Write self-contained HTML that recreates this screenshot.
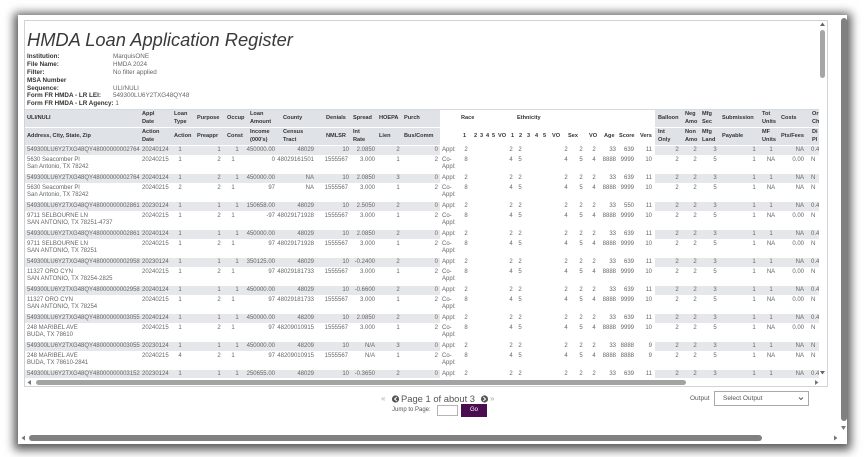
<!DOCTYPE html>
<html><head><meta charset="utf-8"><style>
*{margin:0;padding:0}
body{width:866px;height:457px;position:relative;overflow:hidden;background:#fff;font-family:"Liberation Sans",Arial,sans-serif}
.fr{position:absolute;left:18px;top:15px;width:829px;height:429px;background:#fff;box-shadow:0 2px 9px 4px rgba(0,0,0,.65)}
.pn{position:absolute;left:24px;top:20px;width:802px;height:365px;border:1px solid #d0d3d7;background:#fff}
.ti{position:absolute;left:27px;top:30px;font-size:18.3px;line-height:20px;font-style:italic;color:#3a3a3a;white-space:nowrap}
.inf{position:absolute;left:27px;top:53.4px;font-size:6.3px;line-height:7.8px;color:#333;font-weight:bold;white-space:nowrap}
.inv{position:absolute;left:113px;top:53.4px;font-size:6.3px;line-height:7.8px;color:#666;white-space:nowrap}
.clip{position:absolute;left:25px;top:109px;width:794px;height:269px;overflow:hidden}
.in{position:absolute;left:-25px;top:-109px;width:866px;height:400px}
.hb{position:absolute;background:#dfe2e6}
.hd i{position:absolute;font-style:normal;font-weight:bold;font-size:5.6px;line-height:7.5px;color:#333;white-space:nowrap}
.h1 i{top:115px}.h1 i.t2{top:111px}
.h2 i{top:133px}.h2 i.t2{top:129px}
.rec{position:absolute;left:0;width:866px;height:28px}
.g{position:absolute;top:0;height:9px;background:#e5e7ea}
.g1{left:25px;width:415px}.g2{left:655px;width:164px}
.rec i{position:absolute;font-style:normal;font-size:6px;color:#666;white-space:nowrap}
.r1 i{top:0;line-height:9px}
.r2 i{top:9.5px;line-height:8px}
.r2 i.l2{top:17px}
.u{left:27px}.d{left:142px}
.a{left:176px;width:8px;text-align:center}
.b{left:215px;width:8px;text-align:center}
.c{left:233px;width:8px;text-align:center}
.cc{left:229px;width:8px;text-align:center}
.m{left:230px;width:45px;text-align:right}
.n{left:270px;width:44px;text-align:right}
.p{left:325px;width:24px;text-align:right}
.q{left:318px;width:30px;text-align:right}
.s{left:350px;width:25px;text-align:right}
.h{left:394px;width:8px;text-align:center}
.k{left:420px;width:18px;text-align:right}
.ap{left:442px}
.r{left:462px;width:8px;text-align:center}
.v{left:507px;width:8px;text-align:center}
.e{left:516px;width:8px;text-align:center}
.x{left:562px;width:8px;text-align:center}
.y{left:577px;width:8px;text-align:center}
.z{left:590px;width:8px;text-align:center}
.ag{left:596px;width:20px;text-align:right}
.sc{left:610px;width:24px;text-align:right}
.ve{left:636px;width:16px;text-align:right}
.b1{left:673px;width:8px;text-align:center}
.b2{left:691px;width:8px;text-align:center}
.b3{left:711px;width:8px;text-align:center}
.s1{left:750px;width:8px;text-align:center}
.t1{left:763px;width:16px;text-align:center}
.cs{left:784px;width:20px;text-align:right}
.oc{left:811px}
.pg{position:absolute;white-space:nowrap;color:#555}
</style></head><body>
<div class="fr"></div>
<div class="pn"></div>
<div class="ti">HMDA Loan Application Register</div>
<div class="inf">Institution:<br>File Name:<br>Filter:<br>MSA Number<br>Sequence:<br>Form FR HMDA - LR LEI:<br>Form FR HMDA - LR Agency: <span style="font-weight:normal;color:#666">1</span></div>
<div class="inv">MarquisONE<br>HMDA 2024<br>No filter applied<br>&nbsp;<br>ULI/NULI<br>549300LU6Y2TXG48QY48</div>

<div class="clip"><div class="in">
<div style="position:absolute;left:25px;top:109px;width:794px;height:1px;background:#d6d9dd"></div>
<div class="hb" style="left:25px;top:110px;width:415px;height:17px"></div>
<div class="hb" style="left:655px;top:110px;width:164px;height:17px"></div>
<div class="hb" style="left:25px;top:128px;width:415px;height:17px"></div>
<div class="hb" style="left:655px;top:128px;width:164px;height:17px"></div>
<div class="hd h1">
<i style="left:27px">ULI/NULI</i><i class="t2" style="left:142px">Appl<br>Date</i><i class="t2" style="left:174px">Loan<br>Type</i><i style="left:197px">Purpose</i><i style="left:227px">Occup</i><i class="t2" style="left:250px">Loan<br>Amount</i><i style="left:283px">County</i><i style="left:326px">Denials</i><i style="left:353px">Spread</i><i style="left:379px">HOEPA</i><i style="left:404px">Purch</i><i style="left:461px">Race</i><i style="left:517px">Ethnicity</i><i style="left:658px">Balloon</i><i class="t2" style="left:685px">Neg<br>Amo</i><i class="t2" style="left:702px">Mfg<br>Sec</i><i style="left:722px">Submission</i><i class="t2" style="left:762px">Tot<br>Units</i><i style="left:781px">Costs</i><i class="t2" style="left:812px">Or<br>Ch</i>
</div>
<div class="hd h2">
<i style="left:27px">Address, City, State, Zip</i><i class="t2" style="left:142px">Action<br>Date</i><i style="left:174px">Action</i><i style="left:197px">Preappr</i><i style="left:227px">Const</i><i class="t2" style="left:250px">Income<br>(000's)</i><i class="t2" style="left:283px">Census<br>Tract</i><i style="left:326px">NMLSR</i><i class="t2" style="left:353px">Int<br>Rate</i><i style="left:379px">Lien</i><i style="left:404px">Bus/Comm</i>
<i style="left:463px">1</i><i style="left:474px">2</i><i style="left:480px">3</i><i style="left:486px">4</i><i style="left:492px">5</i><i style="left:498px">VO</i><i style="left:511px">1</i><i style="left:519px">2</i><i style="left:527px">3</i><i style="left:535px">4</i><i style="left:543px">5</i><i style="left:552px">VO</i><i style="left:568px">Sex</i><i style="left:589px">VO</i><i style="left:604px">Age</i><i style="left:619px">Score</i><i style="left:640px">Vers</i>
<i class="t2" style="left:658px">Int<br>Only</i><i class="t2" style="left:685px">Non<br>Amo</i><i class="t2" style="left:702px">Mfg<br>Land</i><i style="left:722px">Payable</i><i class="t2" style="left:762px">MF<br>Units</i><i style="left:781px">Pts/Fees</i><i class="t2" style="left:812px">Di<br>Pl</i>
</div>

<div class="rec" style="top:146px"><b class="g g1"></b><b class="g g2"></b>
<div class="r1"><i class="u">549300LU6Y2TXG48QY48000000002764</i><i class="d">20240124</i><i class="a">1</i><i class="b">1</i><i class="c">1</i><i class="m">450000.00</i><i class="n">48029</i><i class="p">10</i><i class="s">2.0850</i><i class="h">2</i><i class="k">0</i><i class="ap">Appl:</i><i class="r">2</i><i class="v">2</i><i class="e">2</i><i class="x">2</i><i class="y">2</i><i class="z">2</i><i class="ag">33</i><i class="sc">639</i><i class="ve">11</i><i class="b1">2</i><i class="b2">2</i><i class="b3">3</i><i class="s1">1</i><i class="t1">1</i><i class="cs">NA</i><i class="oc">0.4</i></div>
<div class="r2"><i class="u">5630 Seacomber Pl</i><i class="u l2">San Antonio, TX 78242</i><i class="d">20240215</i><i class="a">1</i><i class="b">2</i><i class="cc">1</i><i class="m">0</i><i class="n">48029161501</i><i class="q">1555567</i><i class="s">3.000</i><i class="h">1</i><i class="k">2</i><i class="ap">Co-</i><i class="ap l2">Appl:</i><i class="r">8</i><i class="v">4</i><i class="e">5</i><i class="x">4</i><i class="y">5</i><i class="z">4</i><i class="ag">8888</i><i class="sc">9999</i><i class="ve">10</i><i class="b1">2</i><i class="b2">2</i><i class="b3">5</i><i class="s1">1</i><i class="t1">NA</i><i class="cs">0.00</i><i class="oc">N</i></div></div>

<div class="rec" style="top:174px"><b class="g g1"></b><b class="g g2"></b>
<div class="r1"><i class="u">549300LU6Y2TXG48QY48000000002764</i><i class="d">20240124</i><i class="a">1</i><i class="b">2</i><i class="c">1</i><i class="m">450000.00</i><i class="n">NA</i><i class="p">10</i><i class="s">2.0850</i><i class="h">3</i><i class="k">0</i><i class="ap">Appl:</i><i class="r">2</i><i class="v">2</i><i class="e">2</i><i class="x">2</i><i class="y">2</i><i class="z">2</i><i class="ag">33</i><i class="sc">639</i><i class="ve">11</i><i class="b1">2</i><i class="b2">2</i><i class="b3">3</i><i class="s1">1</i><i class="t1">1</i><i class="cs">NA</i><i class="oc">N</i></div>
<div class="r2"><i class="u">5630 Seacomber Pl</i><i class="u l2">San Antonio, TX 78242</i><i class="d">20240215</i><i class="a">2</i><i class="b">2</i><i class="cc">1</i><i class="m">97</i><i class="n">NA</i><i class="q">1555567</i><i class="s">3.000</i><i class="h">1</i><i class="k">2</i><i class="ap">Co-</i><i class="ap l2">Appl:</i><i class="r">8</i><i class="v">4</i><i class="e">5</i><i class="x">4</i><i class="y">5</i><i class="z">4</i><i class="ag">8888</i><i class="sc">9999</i><i class="ve">10</i><i class="b1">2</i><i class="b2">2</i><i class="b3">5</i><i class="s1">1</i><i class="t1">NA</i><i class="cs">NA</i><i class="oc">N</i></div></div>

<div class="rec" style="top:202px"><b class="g g1"></b><b class="g g2"></b>
<div class="r1"><i class="u">549300LU6Y2TXG48QY48000000002861</i><i class="d">20230124</i><i class="a">1</i><i class="b">1</i><i class="c">1</i><i class="m">150658.00</i><i class="n">48029</i><i class="p">10</i><i class="s">2.5050</i><i class="h">2</i><i class="k">0</i><i class="ap">Appl:</i><i class="r">2</i><i class="v">2</i><i class="e">2</i><i class="x">2</i><i class="y">2</i><i class="z">2</i><i class="ag">33</i><i class="sc">550</i><i class="ve">11</i><i class="b1">2</i><i class="b2">2</i><i class="b3">3</i><i class="s1">1</i><i class="t1">1</i><i class="cs">NA</i><i class="oc">0.4</i></div>
<div class="r2"><i class="u">9711 SELBOURNE LN</i><i class="u l2">SAN ANTONIO, TX 78251-4737</i><i class="d">20240215</i><i class="a">1</i><i class="b">2</i><i class="cc">1</i><i class="m">-97</i><i class="n">48029171928</i><i class="q">1555567</i><i class="s">3.000</i><i class="h">1</i><i class="k">2</i><i class="ap">Co-</i><i class="ap l2">Appl:</i><i class="r">8</i><i class="v">4</i><i class="e">5</i><i class="x">4</i><i class="y">5</i><i class="z">4</i><i class="ag">8888</i><i class="sc">9999</i><i class="ve">10</i><i class="b1">2</i><i class="b2">2</i><i class="b3">5</i><i class="s1">1</i><i class="t1">NA</i><i class="cs">0.00</i><i class="oc">N</i></div></div>

<div class="rec" style="top:230px"><b class="g g1"></b><b class="g g2"></b>
<div class="r1"><i class="u">549300LU6Y2TXG48QY48000000002861</i><i class="d">20240124</i><i class="a">1</i><i class="b">1</i><i class="c">1</i><i class="m">450000.00</i><i class="n">48029</i><i class="p">10</i><i class="s">2.0850</i><i class="h">2</i><i class="k">0</i><i class="ap">Appl:</i><i class="r">2</i><i class="v">2</i><i class="e">2</i><i class="x">2</i><i class="y">2</i><i class="z">2</i><i class="ag">33</i><i class="sc">639</i><i class="ve">11</i><i class="b1">2</i><i class="b2">2</i><i class="b3">3</i><i class="s1">1</i><i class="t1">1</i><i class="cs">NA</i><i class="oc">0.4</i></div>
<div class="r2"><i class="u">9711 SELBOURNE LN</i><i class="u l2">SAN ANTONIO, TX 78251</i><i class="d">20240215</i><i class="a">1</i><i class="b">2</i><i class="cc">1</i><i class="m">97</i><i class="n">48029171928</i><i class="q">1555567</i><i class="s">3.000</i><i class="h">1</i><i class="k">2</i><i class="ap">Co-</i><i class="ap l2">Appl:</i><i class="r">8</i><i class="v">4</i><i class="e">5</i><i class="x">4</i><i class="y">5</i><i class="z">4</i><i class="ag">8888</i><i class="sc">9999</i><i class="ve">10</i><i class="b1">2</i><i class="b2">2</i><i class="b3">5</i><i class="s1">1</i><i class="t1">NA</i><i class="cs">0.00</i><i class="oc">N</i></div></div>

<div class="rec" style="top:258px"><b class="g g1"></b><b class="g g2"></b>
<div class="r1"><i class="u">549300LU6Y2TXG48QY48000000002958</i><i class="d">20230124</i><i class="a">1</i><i class="b">1</i><i class="c">1</i><i class="m">350125.00</i><i class="n">48029</i><i class="p">10</i><i class="s">-0.2400</i><i class="h">2</i><i class="k">0</i><i class="ap">Appl:</i><i class="r">2</i><i class="v">2</i><i class="e">2</i><i class="x">2</i><i class="y">2</i><i class="z">2</i><i class="ag">33</i><i class="sc">639</i><i class="ve">11</i><i class="b1">2</i><i class="b2">2</i><i class="b3">3</i><i class="s1">1</i><i class="t1">1</i><i class="cs">NA</i><i class="oc">0.4</i></div>
<div class="r2"><i class="u">11327 ORO CYN</i><i class="u l2">SAN ANTONIO, TX 78254-2825</i><i class="d">20240215</i><i class="a">1</i><i class="b">2</i><i class="cc">1</i><i class="m">97</i><i class="n">48029181733</i><i class="q">1555567</i><i class="s">3.000</i><i class="h">1</i><i class="k">2</i><i class="ap">Co-</i><i class="ap l2">Appl:</i><i class="r">8</i><i class="v">4</i><i class="e">5</i><i class="x">4</i><i class="y">5</i><i class="z">4</i><i class="ag">8888</i><i class="sc">9999</i><i class="ve">10</i><i class="b1">2</i><i class="b2">2</i><i class="b3">5</i><i class="s1">1</i><i class="t1">NA</i><i class="cs">0.00</i><i class="oc">N</i></div></div>

<div class="rec" style="top:286px"><b class="g g1"></b><b class="g g2"></b>
<div class="r1"><i class="u">549300LU6Y2TXG48QY48000000002958</i><i class="d">20240124</i><i class="a">1</i><i class="b">1</i><i class="c">1</i><i class="m">450000.00</i><i class="n">48029</i><i class="p">10</i><i class="s">-0.6600</i><i class="h">2</i><i class="k">0</i><i class="ap">Appl:</i><i class="r">2</i><i class="v">2</i><i class="e">2</i><i class="x">2</i><i class="y">2</i><i class="z">2</i><i class="ag">33</i><i class="sc">639</i><i class="ve">11</i><i class="b1">2</i><i class="b2">2</i><i class="b3">3</i><i class="s1">1</i><i class="t1">1</i><i class="cs">NA</i><i class="oc">0.4</i></div>
<div class="r2"><i class="u">11327 ORO CYN</i><i class="u l2">SAN ANTONIO, TX 78254</i><i class="d">20240215</i><i class="a">1</i><i class="b">2</i><i class="cc">1</i><i class="m">97</i><i class="n">48029181733</i><i class="q">1555567</i><i class="s">3.000</i><i class="h">1</i><i class="k">2</i><i class="ap">Co-</i><i class="ap l2">Appl:</i><i class="r">8</i><i class="v">4</i><i class="e">5</i><i class="x">4</i><i class="y">5</i><i class="z">4</i><i class="ag">8888</i><i class="sc">9999</i><i class="ve">10</i><i class="b1">2</i><i class="b2">2</i><i class="b3">5</i><i class="s1">1</i><i class="t1">NA</i><i class="cs">0.00</i><i class="oc">N</i></div></div>

<div class="rec" style="top:314px"><b class="g g1"></b><b class="g g2"></b>
<div class="r1"><i class="u">549300LU6Y2TXG48QY48000000003055</i><i class="d">20240124</i><i class="a">1</i><i class="b">1</i><i class="c">1</i><i class="m">450000.00</i><i class="n">48209</i><i class="p">10</i><i class="s">2.0850</i><i class="h">2</i><i class="k">0</i><i class="ap">Appl:</i><i class="r">2</i><i class="v">2</i><i class="e">2</i><i class="x">2</i><i class="y">2</i><i class="z">2</i><i class="ag">33</i><i class="sc">639</i><i class="ve">11</i><i class="b1">2</i><i class="b2">2</i><i class="b3">3</i><i class="s1">1</i><i class="t1">1</i><i class="cs">NA</i><i class="oc">0.4</i></div>
<div class="r2"><i class="u">248 MARIBEL AVE</i><i class="u l2">BUDA, TX 78610</i><i class="d">20240215</i><i class="a">1</i><i class="b">2</i><i class="cc">1</i><i class="m">97</i><i class="n">48209010915</i><i class="q">1555567</i><i class="s">3.000</i><i class="h">1</i><i class="k">2</i><i class="ap">Co-</i><i class="ap l2">Appl:</i><i class="r">8</i><i class="v">4</i><i class="e">5</i><i class="x">4</i><i class="y">5</i><i class="z">4</i><i class="ag">8888</i><i class="sc">9999</i><i class="ve">10</i><i class="b1">2</i><i class="b2">2</i><i class="b3">5</i><i class="s1">1</i><i class="t1">NA</i><i class="cs">0.00</i><i class="oc">N</i></div></div>

<div class="rec" style="top:342px"><b class="g g1"></b><b class="g g2"></b>
<div class="r1"><i class="u">549300LU6Y2TXG48QY48000000003055</i><i class="d">20230124</i><i class="a">1</i><i class="b">1</i><i class="c">1</i><i class="m">450000.00</i><i class="n">48209</i><i class="p">10</i><i class="s">N/A</i><i class="h">3</i><i class="k">0</i><i class="ap">Appl:</i><i class="r">2</i><i class="v">2</i><i class="e">2</i><i class="x">2</i><i class="y">2</i><i class="z">2</i><i class="ag">33</i><i class="sc">8888</i><i class="ve">9</i><i class="b1">2</i><i class="b2">2</i><i class="b3">3</i><i class="s1">1</i><i class="t1">1</i><i class="cs">NA</i><i class="oc">N</i></div>
<div class="r2"><i class="u">248 MARIBEL AVE</i><i class="u l2">BUDA, TX 78610-2841</i><i class="d">20240215</i><i class="a">4</i><i class="b">2</i><i class="cc">1</i><i class="m">97</i><i class="n">48209010915</i><i class="q">1555567</i><i class="s">N/A</i><i class="h">1</i><i class="k">2</i><i class="ap">Co-</i><i class="ap l2">Appl:</i><i class="r">8</i><i class="v">4</i><i class="e">5</i><i class="x">4</i><i class="y">5</i><i class="z">4</i><i class="ag">8888</i><i class="sc">8888</i><i class="ve">9</i><i class="b1">2</i><i class="b2">2</i><i class="b3">5</i><i class="s1">1</i><i class="t1">NA</i><i class="cs">NA</i><i class="oc">N</i></div></div>

<div class="rec" style="top:370px"><b class="g g1"></b><b class="g g2"></b>
<div class="r1"><i class="u">549300LU6Y2TXG48QY48000000003152</i><i class="d">20230124</i><i class="a">1</i><i class="b">1</i><i class="c">1</i><i class="m">250655.00</i><i class="n">48029</i><i class="p">10</i><i class="s">-0.3650</i><i class="h">2</i><i class="k">0</i><i class="ap">Appl:</i><i class="r">2</i><i class="v">2</i><i class="e">2</i><i class="x">2</i><i class="y">2</i><i class="z">2</i><i class="ag">33</i><i class="sc">639</i><i class="ve">11</i><i class="b1">2</i><i class="b2">2</i><i class="b3">3</i><i class="s1">1</i><i class="t1">1</i><i class="cs">NA</i><i class="oc">0.4</i></div></div>
</div></div>

<svg width="866" height="457" style="position:absolute;left:0;top:0">
<polygon points="820,26 825,26 822.5,22.5" fill="#666"/>
<rect x="820" y="30" width="5" height="48" rx="2.5" fill="#a6a6a6"/>
<polygon points="820,371 825,371 822.5,374.5" fill="#666"/>
<rect x="36" y="380" width="650" height="5" rx="2.5" fill="#a3a3a3"/>
<polygon points="31,380 31,385 27.5,382.5" fill="#777"/>
<polygon points="815,380 815,385 818.5,382.5" fill="#777"/>
<rect x="841" y="18" width="6" height="403" rx="3" fill="#808080"/>
<polygon points="841,426 846,426 843.5,430" fill="#777"/>
<rect x="29" y="435" width="733" height="6" rx="3" fill="#808080"/>
<polygon points="25,435.5 25,440.5 21.5,438" fill="#777"/>
<polygon points="834,435.5 834,440.5 837.5,438" fill="#777"/>
<circle cx="395.5" cy="399" r="3.6" fill="#555"/>
<polyline points="396.8,397 394.6,399 396.8,401" fill="none" stroke="#fff" stroke-width="1"/>
<circle cx="484.5" cy="399" r="3.6" fill="#555"/>
<polyline points="483.3,397 485.5,399 483.3,401" fill="none" stroke="#fff" stroke-width="1"/>
<rect x="437.5" y="405.5" width="20" height="10" fill="#fff" stroke="#b5b5b5"/>
<rect x="461" y="404" width="26" height="13" fill="#4b0d4f"/>
<rect x="714.5" y="391.5" width="94" height="14" fill="#fff" stroke="#a9a9a9"/>
<polyline points="799,397.5 801,399.5 803,397.5" fill="none" stroke="#555" stroke-width="0.9"/>
</svg>
<div class="pg" style="left:381px;top:393px;font-size:8px;line-height:12px;color:#aaa">«</div>
<div class="pg" style="left:401px;top:393px;font-size:9.4px;line-height:12px">Page 1 of about 3</div>
<div class="pg" style="left:490px;top:393px;font-size:8px;line-height:12px;color:#aaa">»</div>
<div class="pg" style="left:392px;top:406px;font-size:6px;line-height:8px">Jump to Page:</div>
<div class="pg" style="left:461px;top:406px;width:26px;text-align:center;font-size:6px;line-height:9px;color:#fff">Go</div>
<div class="pg" style="left:690px;top:394px;font-size:6.5px;line-height:9px">Output</div>
<div class="pg" style="left:723px;top:394px;font-size:6.5px;line-height:9px">Select Output</div>
</body></html>
